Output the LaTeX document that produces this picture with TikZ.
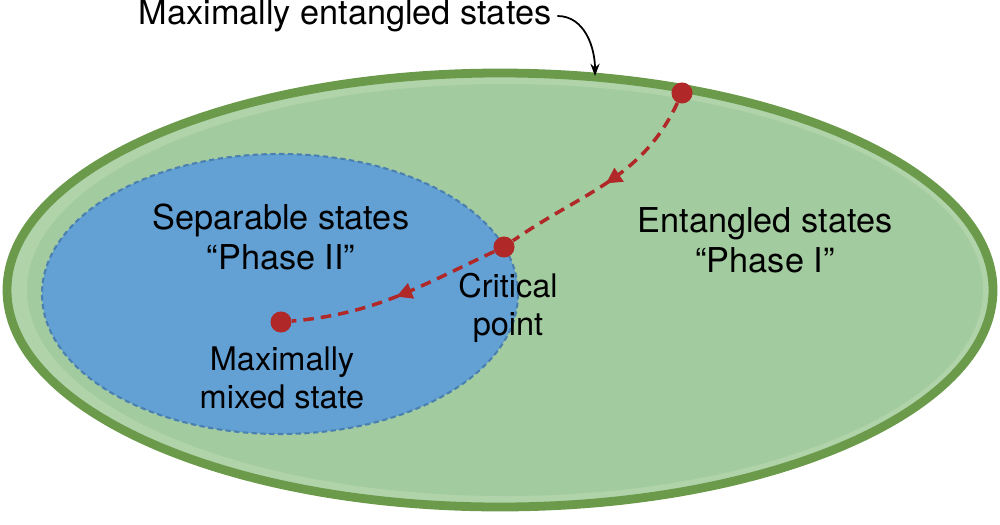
\documentclass[tikz,border=0pt]{standalone}
\usepackage{fontspec}
\setmainfont{TeX Gyre Heros}
\usetikzlibrary{arrows.meta,decorations.markings}
\definecolor{ogreen}{HTML}{6A9A4A}
\definecolor{lgreen}{HTML}{A3CBA0}
\definecolor{bandg}{HTML}{B0D3AA}
\definecolor{blue1}{HTML}{63A1D5}
\definecolor{bblue}{HTML}{4A80B0}
\definecolor{dred}{HTML}{B02828}
\tikzset{
  big/.style={font=\fontsize{19.5}{23}\selectfont, align=center},
  small/.style={font=\fontsize{18.5}{22}\selectfont, align=center},
  dot/.style={circle, fill=dred, inner sep=0pt, minimum size=12pt},
  path/.style={dred, line width=2pt, dash pattern=on 6pt off 4pt},
  mid/.style={postaction=decorate, decoration={markings, mark=at position 0.5 with {\arrow[solid]{Triangle[length=9pt,width=9pt]}}}}
}
\begin{document}
\begin{tikzpicture}[x=0.02cm,y=-0.02cm]
\useasboundingbox (0,0) rectangle (1000,524);
\fill[bandg] (500,290) ellipse [x radius=490, y radius=214];
\fill[lgreen] (505,290) ellipse [x radius=478, y radius=206];
\draw[ogreen, line width=5pt] (500,290) ellipse [x radius=493, y radius=217];
\fill[blue1] (280,294) ellipse [x radius=238, y radius=140];
\draw[bblue, line width=1.2pt, dash pattern=on 3pt off 2pt] (280,294) ellipse [x radius=238, y radius=140];
\node[dot] (top) at (682,93) {};
\node[dot] (crit) at (504,247) {};
\node[dot] (mix) at (281,322) {};
\draw[path, mid] (top) to[out=-115, in=35] (crit);
\draw[path, mid] (crit) to[out=-155, in=5] (mix);
\node[big] (mes) at (345,16) {Maximally entangled states};
\coordinate (mesend) at (595,76);
\draw[-{Stealth[length=7pt]}, line width=1pt] (mes.east) to[out=0, in=90] (mesend);
\node[big] (sep) at (281,237) {Separable states\\``Phase II''};
\node[big] (ent) at (765,240) {Entangled states\\``Phase I''};
\node[small] (cp) at (508,308) {Critical\\point};
\node[small] (mm) at (282,378) {Maximally\\mixed state};
\end{tikzpicture}
\end{document}
